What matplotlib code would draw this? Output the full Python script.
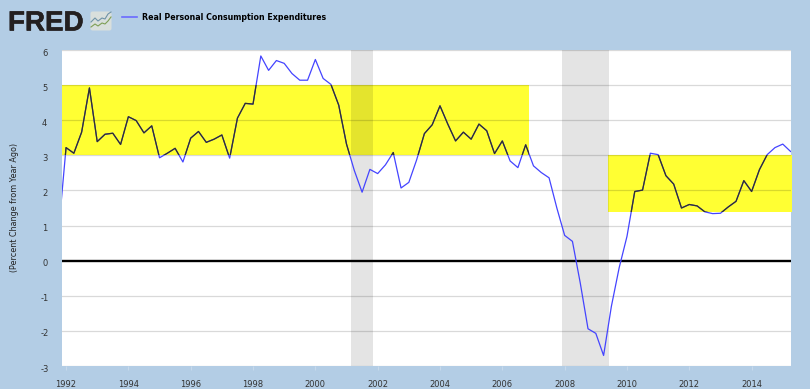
import numpy as np
import matplotlib
matplotlib.use("Agg")
import matplotlib.pyplot as plt
import matplotlib.patheffects as pe
from matplotlib.patches import Rectangle, FancyBboxPatch
from matplotlib.path import Path
from matplotlib.lines import Line2D
from matplotlib.transforms import ScaledTranslation

plt.rcParams["axes.unicode_minus"] = False

# quarterly, starts 1991 Q4 (that point falls off the left edge)
first_year = 1991.75
values = [0.74, 3.22, 3.06, 3.66, 4.92, 3.39, 3.60, 3.63, 3.31, 4.10, 3.99, 3.64,
          3.84, 2.93, 3.06, 3.20, 2.81, 3.49, 3.68, 3.37, 3.46, 3.58, 2.92, 4.06,
          4.48, 4.46, 5.83, 5.42, 5.70, 5.62, 5.33, 5.14, 5.14, 5.73, 5.19, 5.02,
          4.43, 3.32, 2.57, 1.95, 2.60, 2.48, 2.73, 3.08, 2.07, 2.23, 2.87, 3.62,
          3.87, 4.41, 3.89, 3.41, 3.66, 3.46, 3.89, 3.70, 3.05, 3.41, 2.84, 2.65,
          3.30, 2.70, 2.51, 2.36, 1.50, 0.72, 0.55, -0.63, -1.94, -2.07, -2.70, -1.30,
          -0.20, 0.69, 1.97, 2.01, 3.06, 3.02, 2.42, 2.18, 1.50, 1.60, 1.56, 1.39,
          1.34, 1.35, 1.53, 1.69, 2.28, 1.97, 2.59, 3.02, 3.22, 3.32, 3.11]
years = first_year + np.arange(len(values)) * 0.25

recessions = [(2001.15, 2001.85), (2007.92, 2009.42)]
# x0, x1, y0, y1
bands = [(1991.87, 2006.86, 3.0, 5.0), (2009.38, 2015.30, 1.4, 3.0)]
x_ticks = list(range(1992, 2015, 2))
y_ticks = list(range(-3, 7))
series_name = "Real Personal Consumption Expenditures"
y_title = "(Percent Change from Year Ago)"

bg = "#b3cde5"
fig = plt.figure(figsize=(8.10, 3.89), dpi=100, facecolor=bg)
ax = fig.add_axes([62 / 810, 1 - 366 / 389, 729.5 / 810, 316 / 389])
ax.set_xlim(1991.87, 2015.28)
ax.set_ylim(-3, 6)
ax.set_facecolor("white")
for s in ax.spines.values():
    s.set_visible(False)

for x0, x1, y0, y1 in bands:
    ax.add_patch(Rectangle((x0, y0), x1 - x0, y1 - y0, fc="#ffff33", ec="none", zorder=1, clip_on=False))
for x0, x1 in recessions:
    ax.axvspan(x0, x1, fc="black", alpha=0.105, ec="none", zorder=2)
for y in y_ticks:
    if y != 0:
        ax.axhline(y, color="black", alpha=0.15, lw=0.9, zorder=3)
ax.axhline(0, color="black", lw=1.7, zorder=4)

ax.plot(years, values, color="#4444ff", lw=0.9, zorder=5)
# the bands darken whatever is under them, so the line goes near black there
dark, = ax.plot(years, values, color="#333322", lw=0.9, zorder=6)
rects = [Path([(b[0], b[2]), (b[1], b[2]), (b[1], b[3]), (b[0], b[3]), (b[0], b[2])], closed=True) for b in bands]
dark.set_clip_path(Path.make_compound_path(*rects), ax.transData)

ax.set_xticks(x_ticks)
ax.set_yticks(y_ticks)
ax.tick_params(axis="x", length=3, width=0.8, color="#c6d9eb", labelsize=6, labelcolor="#333333", pad=7)
ax.tick_params(axis="y", length=0, labelsize=6, labelcolor="#333333", pad=12.5)
shift_y = ScaledTranslation(0, -2 / 100, fig.dpi_scale_trans)
for lab in ax.get_yticklabels():
    lab.set_ha("center")
    lab.set_transform(lab.get_transform() + shift_y)

fig.text(15 / 810, 1 - 207 / 389, y_title, rotation=90, fontsize=5.8, color="#222222", ha="center", va="center")

# legend
fig.add_artist(Line2D([122 / 810, 137 / 810], [1 - 17 / 389] * 2, color="#6a6aff", lw=1.2))
fig.text(142 / 810, 1 - 17 / 389, series_name, fontsize=5.7, fontweight="bold", color="black", va="center")

# FRED logo
logo = fig.text(8 / 810, 1 - 30.5 / 389, "FRED", family="Liberation Sans", fontsize=20, fontweight="bold", color="#231f20", va="baseline")
logo.set_path_effects([pe.withStroke(linewidth=0.4, foreground="#231f20")])
icon = fig.add_axes([90 / 810, 1 - 31 / 389, 22 / 810, 20 / 389])
icon.set_xlim(0, 22)
icon.set_ylim(0, 20)
icon.axis("off")
icon.add_patch(FancyBboxPatch((0.5, 0.5), 21, 19, boxstyle="round,pad=0,rounding_size=2", fc="#d9dfdc", ec="none"))
icon.plot([1, 5, 8, 12, 15, 18, 21], [9, 13, 10, 13, 12, 17, 19], color="#6f93a8", lw=0.8)
icon.plot([1, 5, 8, 12, 15, 18, 21], [4, 7, 5, 8, 7, 10, 14], color="#7f9f55", lw=0.8)

fig.savefig("out.png", dpi=100, facecolor=bg)
